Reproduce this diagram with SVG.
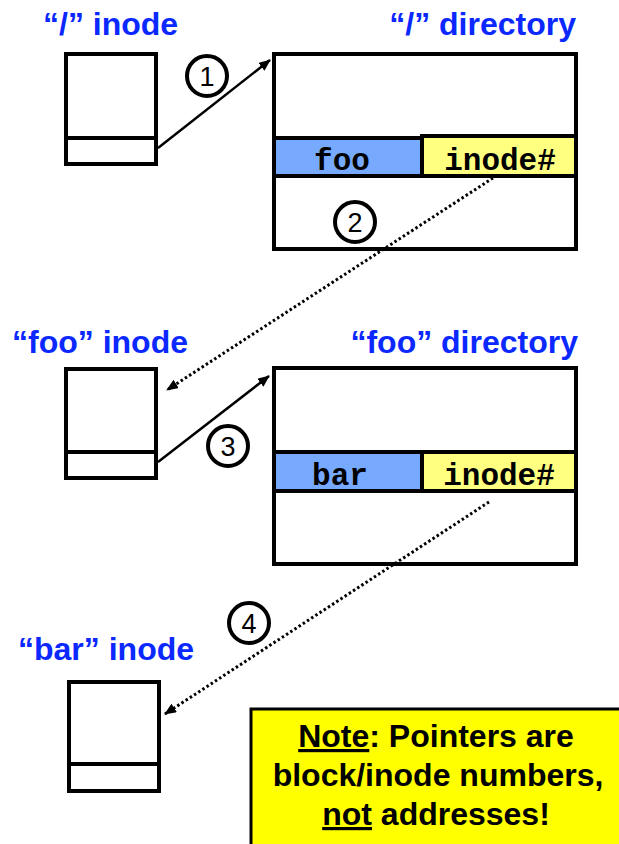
<svg xmlns="http://www.w3.org/2000/svg" width="619" height="844" viewBox="0 0 619 844">
  <defs>
    <marker id="head" viewBox="0 0 12 10" refX="11" refY="5" markerWidth="12" markerHeight="10" markerUnits="userSpaceOnUse" orient="auto">
      <path d="M0,0 L12,5 L0,10 Z" fill="#000"/>
    </marker>
    <style>
      .label { font-family: "Liberation Sans", Arial, sans-serif; font-weight: bold; font-size: 32px; fill: #0a28ff; }
      .box { fill: #fff; stroke: #000; stroke-width: 4; }
      .name { fill: #77aaff; stroke: #000; stroke-width: 4; }
      .num { fill: #ffff80; stroke: #000; stroke-width: 4; }
      .mono { font-family: "Liberation Mono", "Courier New", monospace; font-weight: bold; font-size: 31px; fill: #000; text-anchor: middle; }
      .step { fill: #fff; stroke: #000; stroke-width: 4; }
      .stepnum { font-family: "Liberation Sans", Arial, sans-serif; font-size: 27px; fill: #000; text-anchor: middle; }
      .solid { stroke: #000; stroke-width: 2.5; fill: none; marker-end: url(#head); }
      .dotted { stroke: #000; stroke-width: 3; stroke-dasharray: 2.5 2.5; fill: none; marker-end: url(#head); }
      .note { font-family: "Liberation Sans", Arial, sans-serif; font-weight: bold; font-size: 32px; fill: #000; text-anchor: middle; }
    </style>
  </defs>
  <rect width="619" height="844" fill="#fff"/>

  <!-- root inode -->
  <g id="root-inode">
    <text class="label" x="43" y="35">“/” inode</text>
    <rect class="box" x="66" y="54" width="90" height="110"/>
    <line x1="66" y1="138" x2="156" y2="138" stroke="#000" stroke-width="4"/>
  </g>

  <!-- root directory -->
  <g id="root-dir">
    <text class="label" x="576" y="35" text-anchor="end">“/” directory</text>
    <rect class="box" x="274" y="54" width="302" height="195"/>
    <rect class="name" x="274" y="138" width="148" height="38"/>
    <rect class="num" x="422" y="136" width="154" height="40"/>
    <text class="mono" x="342" y="170">foo</text>
    <text class="mono" x="500" y="170">inode#</text>
  </g>

  <!-- foo inode -->
  <g id="foo-inode">
    <text class="label" x="12" y="353">“foo” inode</text>
    <rect class="box" x="66" y="369" width="90" height="109"/>
    <line x1="66" y1="452" x2="156" y2="452" stroke="#000" stroke-width="4"/>
  </g>

  <!-- foo directory -->
  <g id="foo-dir">
    <text class="label" x="578" y="353" text-anchor="end">“foo” directory</text>
    <rect class="box" x="274" y="368" width="302" height="196"/>
    <rect class="name" x="274" y="452" width="148" height="39"/>
    <rect class="num" x="422" y="452" width="154" height="39"/>
    <text class="mono" x="340" y="485">bar</text>
    <text class="mono" x="499" y="485">inode#</text>
  </g>

  <!-- bar inode -->
  <g id="bar-inode">
    <text class="label" x="18" y="660">“bar” inode</text>
    <rect class="box" x="69" y="682" width="90" height="109"/>
    <line x1="69" y1="764" x2="159" y2="764" stroke="#000" stroke-width="4"/>
  </g>

  <!-- lookup steps -->
  <g id="connectors">
    <line class="solid" x1="158" y1="148" x2="270" y2="60"/>
    <line class="dotted" x1="493" y1="178" x2="167" y2="390"/>
    <line class="solid" x1="158" y1="462" x2="269" y2="376"/>
    <line class="dotted" x1="489" y1="502" x2="165" y2="714"/>
  </g>

  <g id="step-1">
    <circle class="step" cx="207" cy="76" r="20"/>
    <text class="stepnum" x="207" y="86">1</text>
  </g>
  <g id="step-2">
    <circle class="step" cx="355" cy="222" r="20"/>
    <text class="stepnum" x="355" y="232">2</text>
  </g>
  <g id="step-3">
    <circle class="step" cx="228" cy="446" r="20"/>
    <text class="stepnum" x="228" y="456">3</text>
  </g>
  <g id="step-4">
    <circle class="step" cx="249" cy="623" r="20"/>
    <text class="stepnum" x="249" y="633">4</text>
  </g>

  <!-- note -->
  <g id="note">
    <rect x="251" y="709" width="380" height="150" fill="#ffff00" stroke="#000" stroke-width="3"/>
    <text class="note" x="436" y="747"><tspan text-decoration="underline">Note</tspan>: Pointers are</text>
    <text class="note" x="438" y="786">block/inode numbers,</text>
    <text class="note" x="436" y="825"><tspan text-decoration="underline">not</tspan> addresses!</text>
  </g>
</svg>
